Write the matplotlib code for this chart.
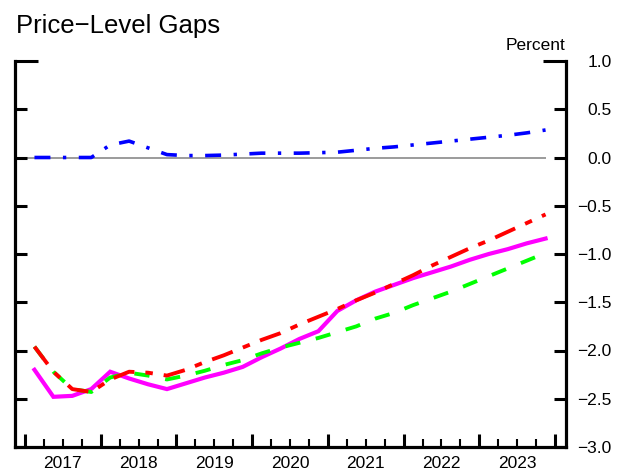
import matplotlib
matplotlib.use("Agg")
import matplotlib.pyplot as plt
import numpy as np

plt.rcParams['font.family'] = ['Liberation Sans', 'DejaVu Sans']
plt.rcParams['lines.scale_dashes'] = False

# Quarterly data 2017Q1 .. 2023Q4
start_year = 2017
n_quarters = 28
years = [2017, 2018, 2019, 2020, 2021, 2022, 2023]
year_labels = ["2017", "2018", "2019", "2020", "2021", "2022", "2023"]

blue = [0.0, 0.0, 0.0, 0.0, 0.13, 0.17, 0.10, 0.03, 0.02, 0.02, 0.025, 0.035,
        0.045, 0.045, 0.045, 0.05, 0.055, 0.075, 0.095, 0.11, 0.13, 0.15, 0.17,
        0.19, 0.21, 0.23, 0.255, 0.285]
red = [-1.96, -2.22, -2.40, -2.43, -2.30, -2.22, -2.23, -2.26, -2.20, -2.12,
       -2.05, -1.97, -1.89, -1.82, -1.73, -1.65, -1.57, -1.48, -1.40, -1.31,
       -1.22, -1.12, -1.03, -0.94, -0.86, -0.77, -0.68, -0.59]
green = [-1.96, -2.22, -2.40, -2.43, -2.28, -2.23, -2.26, -2.30, -2.26, -2.21,
         -2.15, -2.10, -2.03, -1.97, -1.92, -1.87, -1.81, -1.75, -1.67, -1.61,
         -1.53, -1.46, -1.39, -1.31, -1.23, -1.15, -1.07, -0.99]
magenta = [-2.20, -2.48, -2.47, -2.40, -2.22, -2.29, -2.35, -2.40, -2.34, -2.28,
           -2.23, -2.17, -2.07, -1.98, -1.88, -1.80, -1.59, -1.48, -1.39, -1.32,
           -1.25, -1.19, -1.13, -1.06, -1.00, -0.95, -0.89, -0.84]

yticks = [1.0, 0.5, 0.0, -0.5, -1.0, -1.5, -2.0, -2.5, -3.0]
ytick_labels = ["1.0", "0.5", "0.0", "\u22120.5", "\u22121.0", "\u22121.5",
                "\u22122.0", "\u22122.5", "\u22123.0"]

x = start_year + 0.125 + 0.25 * np.arange(n_quarters)

W, H = 617, 472
fig = plt.figure(figsize=(W / 100, H / 100), dpi=100)
ax = fig.add_axes([15 / W, 1 - 447 / H, (566 - 15) / W, (447 - 61) / H])

ax.set_xlim(2016.868, 2024.145)
ax.set_ylim(-3.0, 1.0)

# zero reference line (ends at the last observation)
ax.hlines(0, ax.get_xlim()[0], x[-1], color='#808080', lw=1.1, zorder=1)

ax.plot(x, magenta, color='#FF00FF', lw=3.0, solid_joinstyle='miter', zorder=2)
ax.plot(x, green, color='#00FF00', lw=2.8, dashes=(11, 11.5), zorder=3)
ax.plot(x, red, color='#FF0000', lw=2.8, dashes=(15.8, 7.9, 5.4, 7.9), zorder=4)
ax.plot(x, blue, color='#0000FF', lw=2.6, dashes=(11.5, 9, 2.4, 9), zorder=5)

for s in ['top']:
    ax.spines[s].set_visible(False)
for s in ['left', 'right', 'bottom']:
    ax.spines[s].set_linewidth(2.3)

# y ticks on both sides, inward
ax.set_yticks(yticks)
ax.set_yticklabels(ytick_labels)
ax.tick_params(axis='y', which='major', direction='in', length=8.6, width=2.2,
               left=True, right=True, labelleft=False, labelright=True,
               labelsize=12.5, pad=33)
for lab in ax.get_yticklabels():
    lab.set_horizontalalignment('right')
# longer cap ticks at the top
top_tick = ax.yaxis.get_major_ticks()[0]
top_tick.tick1line.set_markersize(16.5)
top_tick.tick2line.set_markersize(16.5)

# x ticks: year boundaries (major), quarters (minor)
ax.set_xticks(list(years) + [years[-1] + 1])
ax.set_xticks(np.arange(start_year, years[-1] + 1.001, 0.25), minor=True)
ax.tick_params(axis='x', which='major', direction='in', length=9.4, width=2.2,
               labelbottom=False)
ax.tick_params(axis='x', which='minor', direction='in', length=6, width=1.5)

sec = ax.secondary_xaxis('bottom')
sec.set_xticks([y + 0.5 for y in years])
sec.set_xticklabels(year_labels)
sec.tick_params(length=0, labelsize=12.5, pad=6.5)
sec.spines['bottom'].set_visible(False)

fig.text(16 / W, 1 - 32.7 / H, "Price\u2212Level Gaps", fontsize=18.5,
         ha='left', va='baseline')
fig.text(565 / W, 1 - 50 / H, "Percent", fontsize=12.5, ha='right', va='baseline')

fig.savefig("out.png", dpi=100)
